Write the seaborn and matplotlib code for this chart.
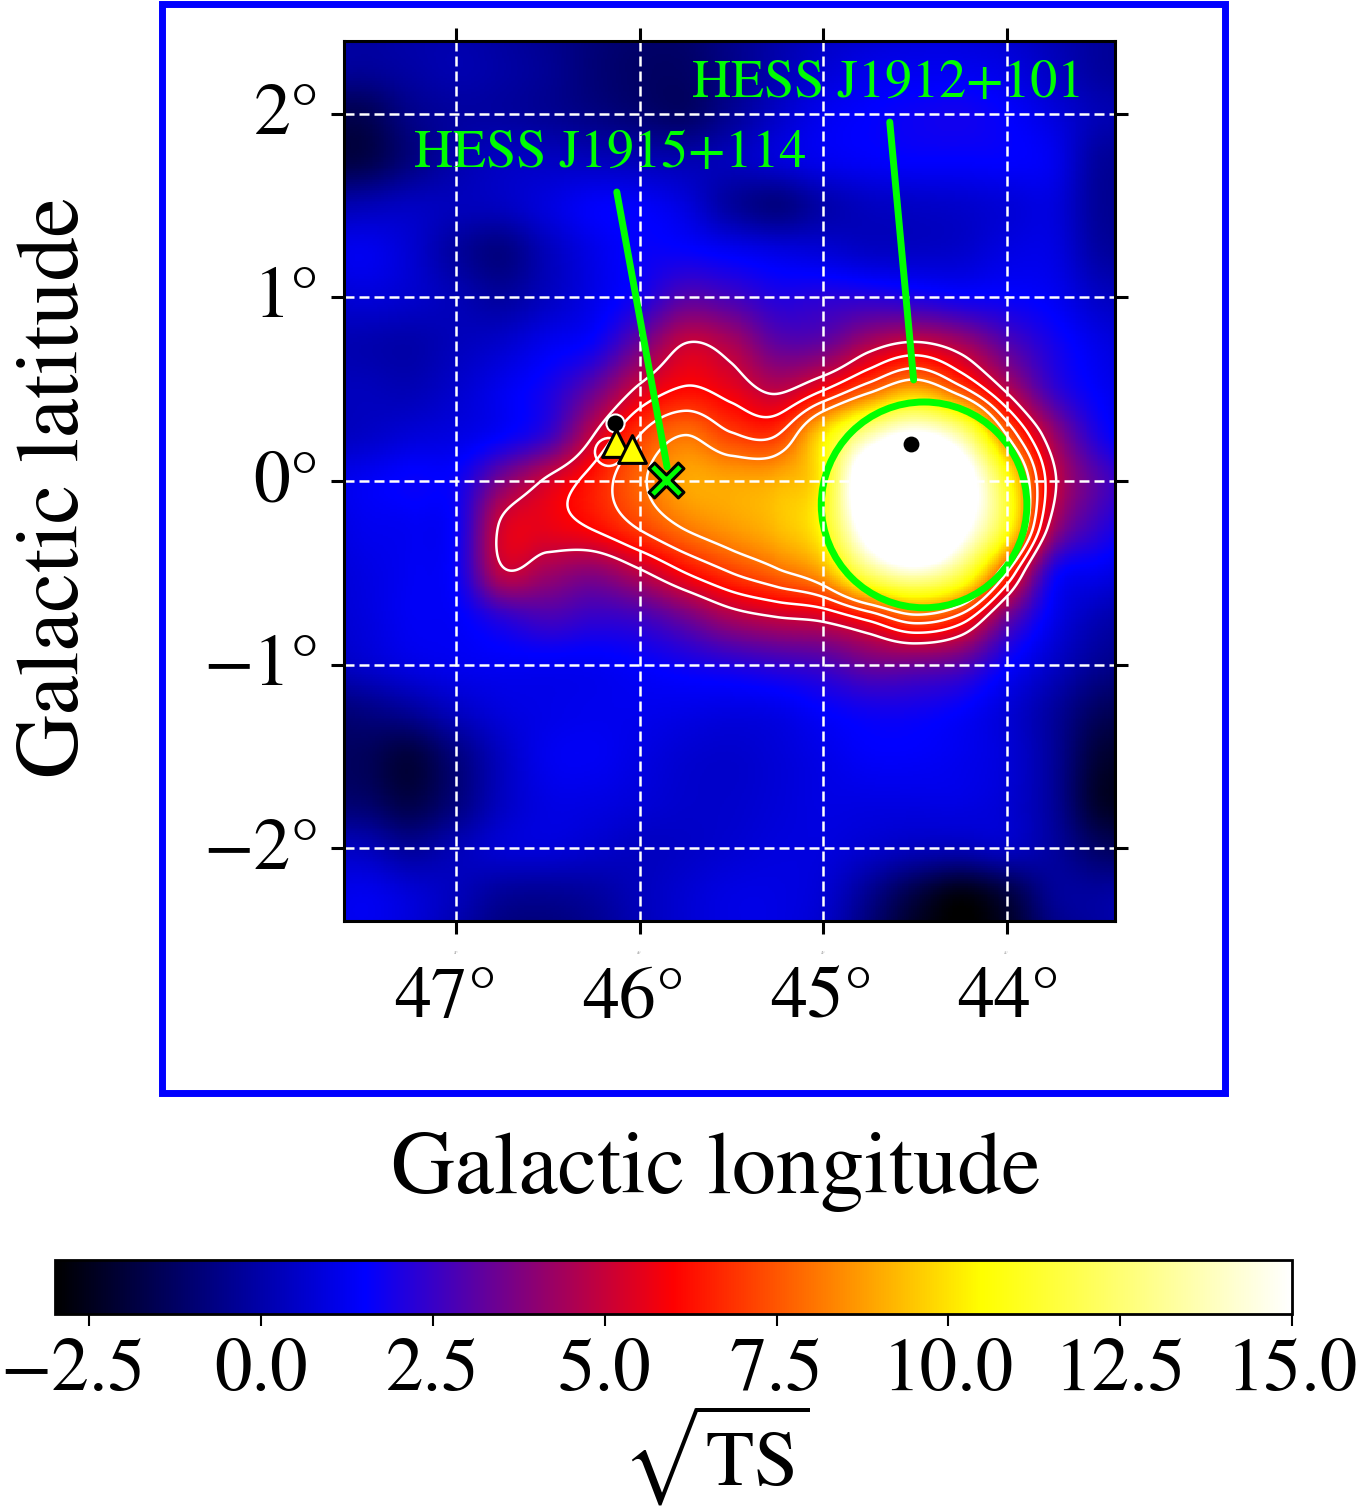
import numpy as np
import matplotlib
matplotlib.use("Agg")
import matplotlib.pyplot as plt
from matplotlib.colors import LinearSegmentedColormap
from matplotlib.patches import Circle, Rectangle
from matplotlib.transforms import Affine2D, ScaledTranslation
import seaborn as sns

# ---- values (sqrt(TS) on a 0.25 degree lattice) ----
lon_nodes = [47.75, 47.5, 47.25, 47.0, 46.75, 46.5, 46.25, 46.0, 45.75, 45.5,
             45.25, 45.0, 44.75, 44.5, 44.25, 44.0, 43.75, 43.5, 43.25]
lat_nodes = [2.5, 2.25, 2.0, 1.75, 1.5, 1.25, 1.0, 0.75, 0.5, 0.25, 0.0,
             -0.25, -0.5, -0.75, -1.0, -1.25, -1.5, -1.75, -2.0, -2.25, -2.5]
row_p250 = [0.0,-0.2,0.0,0.0,-0.2,-0.5,-0.8,-1.0,-1.0,-0.5,0.0,0.4,0.6,0.8,0.8,0.6,0.2,-0.2,-0.3]
row_p225 = [-0.2,-0.3,-0.1,0.1,-0.1,-0.4,-0.9,-1.2,-1.2,-0.6,0.1,0.7,1.1,1.2,1.2,1.0,0.4,-0.2,-0.4]
row_p200 = [-1.5,-1.5,-0.6,-0.2,-0.2,-0.4,-0.7,-1.0,-1.2,-0.4,0.5,1.2,1.5,1.7,1.8,1.5,0.9,0.2,0.0]
row_p175 = [-1.8,-1.7,-0.8,0.0,0.4,0.4,0.3,0.2,0.1,0.3,0.8,1.2,1.4,1.5,1.5,1.5,1.2,-0.2,-0.3]
row_p150 = [0.0,0.2,0.4,0.3,0.4,0.9,1.4,1.4,0.9,-0.2,-0.7,0.0,0.4,0.5,0.6,0.8,0.9,-0.3,-0.5]
row_p125 = [1.0,1.2,0.7,-0.2,-0.7,0.3,1.1,1.6,1.6,1.3,1.0,0.8,0.5,0.5,0.6,1.0,1.0,-0.1,-0.4]
row_p100 = [0.6,0.8,0.6,0.2,-0.2,0.4,1.1,1.9,3.0,2.7,2.1,2.2,2.2,2.0,1.7,1.6,1.3,0.5,0.2]
row_p075 = [0.2,0.1,0.0,0.3,0.6,1.2,1.7,3.4,5.0,4.5,3.2,3.3,4.5,5.1,4.4,3.0,1.9,1.1,0.6]
row_p050 = [0.3,0.3,0.2,0.6,1.2,1.9,3.3,5.2,6.1,5.6,4.8,5.9,7.6,9.0,7.3,4.8,2.5,1.4,0.9]
row_p025 = [0.3,0.5,0.8,1.0,1.5,2.5,5.0,7.0,8.0,7.1,7.0,10.0,13.5,15.5,13.3,8.0,4.3,2.0,1.0]
row_000  = [1.0,1.3,1.6,1.7,3.7,5.2,6.4,7.8,8.9,8.9,9.1,10.5,18.0,22.0,17.0,11.0,5.3,3.0,2.0]
row_m025 = [0.8,1.2,1.3,1.7,5.2,5.6,6.1,7.1,8.1,8.7,9.3,10.7,16.5,21.0,16.0,11.0,4.5,2.4,1.6]
row_m050 = [0.7,1.0,1.3,1.7,4.8,4.3,3.9,4.8,6.0,7.0,7.8,8.9,12.4,14.0,12.0,7.0,2.0,1.2,0.8]
row_m075 = [0.6,0.9,1.3,1.4,2.2,2.7,2.4,2.6,3.4,4.4,4.9,5.2,6.2,7.5,6.5,3.4,1.2,0.2,-0.2]
row_m100 = [0.2,0.6,1.0,1.2,1.3,1.3,1.3,1.5,1.8,2.1,2.4,2.7,3.4,3.4,3.0,1.6,0.5,-0.4,-0.8]
row_m125 = [-1.0,-0.7,-0.3,0.4,0.9,1.1,1.2,1.2,1.1,1.0,1.1,1.5,1.8,1.8,1.5,0.8,-0.2,-1.3,-1.6]
row_m150 = [-1.3,-1.4,-1.9,-0.8,0.4,1.2,1.3,1.0,0.7,0.6,0.8,1.1,1.4,1.4,1.2,0.8,-0.3,-2.0,-2.3]
row_m175 = [-1.0,-1.1,-1.7,-0.8,0.4,1.0,1.0,0.8,0.6,0.6,0.8,1.0,1.0,1.0,1.0,0.7,-0.3,-2.2,-2.5]
row_m200 = [0.4,0.3,-0.3,0.2,0.7,0.8,0.6,0.4,0.5,0.7,0.9,0.9,0.6,0.3,0.2,0.4,-0.2,-1.2,-1.5]
row_m225 = [1.0,1.2,0.8,0.3,-0.3,-0.4,-0.2,0.3,0.7,1.0,1.0,0.7,-0.5,-1.8,-2.7,-1.9,-0.4,-0.2,0.0]
row_m250 = [1.0,1.2,0.8,0.0,-0.8,-0.9,-0.5,0.2,0.7,1.0,1.0,0.5,-1.0,-2.4,-3.0,-2.4,-0.8,-0.2,0.2]

contour_levels = [5, 6, 7, 8]
lon_ticks = [47, 46, 45, 44]
lat_ticks = [2, 1, 0, -1, -2]
lon_label_px = [446, 634, 822, 1009]
cbar_ticks = [-2.5, 0.0, 2.5, 5.0, 7.5, 10.0, 12.5, 15.0]
cmap_colors = ["black", "blue", "red", "yellow", "white"]

sources = ["HESS J1912+101", "HESS J1915+114"]
source_label_lon = [45.715, 47.229]
source_label_lat = [2.09, 1.709]
source_line_lon = [[44.637, 44.507], [46.124, 45.85]]
source_line_lat = [[1.954, 0.55], [1.573, 0.076]]
circle_lon, circle_lat, circle_r = 44.45, -0.13, 0.56
loop_lon, loop_lat, loop_r = 46.167, 0.158, 0.076
dot_lon = [46.135, 44.52]
dot_lat = [0.315, 0.2]
triangle_lon = [46.13, 46.04]
triangle_lat = [0.207, 0.174]
cross_lon, cross_lat = [45.857], [0.005]

LON_LEFT, LON_RIGHT = 47.61, 43.41
LAT_TOP, LAT_BOTTOM = 2.395, -2.395

# ---- page geometry in pixels ----
W, H = 1356, 1507
sns.set_theme(style="ticks")
plt.rcParams["font.family"] = ["STIXGeneral", "Liberation Serif", "DejaVu Serif"]
plt.rcParams["mathtext.fontset"] = "stix"
plt.rcParams["axes.unicode_minus"] = True
for key in ("text.color", "axes.labelcolor", "xtick.color", "ytick.color", "axes.edgecolor"):
    plt.rcParams[key] = "black"
GREEN = "#00ff00"


def fig_rect(x0, y0, x1, y1):
    return [x0 / W, 1 - y1 / H, (x1 - x0) / W, (y1 - y0) / H]


def smooth_axis(z, t, axis):
    """Catmull-Rom resampling for display of the read lattice."""
    z = np.moveaxis(z, axis, 0)
    n = z.shape[0]
    i = np.clip(np.floor(t).astype(int), 0, n - 2)
    u = t - i
    shape = (-1,) + (1,) * (z.ndim - 1)
    u = u.reshape(shape)
    p0 = z[np.clip(i - 1, 0, n - 1)]
    p1 = z[i]
    p2 = z[i + 1]
    p3 = z[np.clip(i + 2, 0, n - 1)]
    out = 0.5 * (2 * p1 + (p2 - p0) * u + (2 * p0 - 5 * p1 + 4 * p2 - p3) * u ** 2
                 + (3 * p1 - p0 - 3 * p2 + p3) * u ** 3)
    return np.moveaxis(out, 0, axis)


lattice = np.array([row_p250, row_p225, row_p200, row_p175, row_p150, row_p125, row_p100,
                    row_p075, row_p050, row_p025, row_000, row_m025, row_m050, row_m075,
                    row_m100, row_m125, row_m150, row_m175, row_m200, row_m225, row_m250])
nx, ny = 420, 480
edge_lon = np.linspace(LON_LEFT, LON_RIGHT, nx + 1)
edge_lat = np.linspace(LAT_TOP, LAT_BOTTOM, ny + 1)
fine_lon = 0.5 * (edge_lon[:-1] + edge_lon[1:])
fine_lat = 0.5 * (edge_lat[:-1] + edge_lat[1:])
dlon = lon_nodes[1] - lon_nodes[0]
dlat = lat_nodes[1] - lat_nodes[0]
field = smooth_axis(lattice, (fine_lon - lon_nodes[0]) / dlon, 1)
field = smooth_axis(field, (fine_lat - lat_nodes[0]) / dlat, 0)

cmap = LinearSegmentedColormap.from_list("coldhot", cmap_colors, N=512)

fig = plt.figure(figsize=(W / 100, H / 100), dpi=100, facecolor="white")
ax = fig.add_axes(fig_rect(344, 41, 1115, 921))
sns.heatmap(field, ax=ax, cmap=cmap, vmin=-3, vmax=15, cbar=False,
            xticklabels=False, yticklabels=False, square=False)
mesh = ax.collections[0]
# lattice index -> degrees
to_deg = Affine2D().scale((LON_RIGHT - LON_LEFT) / nx, (LAT_BOTTOM - LAT_TOP) / ny).translate(LON_LEFT, LAT_TOP)
mesh.set_transform(to_deg + ax.transData)
ax.set_xlim(LON_LEFT, LON_RIGHT)
ax.set_ylim(LAT_BOTTOM, LAT_TOP)

for s in ax.spines.values():
    s.set_visible(True)
    s.set_linewidth(2.2)
    s.set_color("black")
    s.set_zorder(20)

ax.contour(fine_lon, fine_lat, field, levels=contour_levels, colors="white", linewidths=1.8, zorder=3)
ax.add_patch(Circle((loop_lon, loop_lat), loop_r, fill=False, ec="white", lw=1.8, zorder=3))

# grid
dash = (0, (4.0, 2.0))
for l in lon_ticks:
    ax.axvline(l, color="white", lw=1.8, ls=dash, zorder=5)
for b in lat_ticks:
    ax.axhline(b, color="white", lw=1.8, ls=dash, zorder=5)

# ticks
ax.set_xticks(lon_ticks)
ax.set_xticklabels([f"{l}\u00b0" for l in lon_ticks], fontsize=2.4, color="#777777")
ax.set_yticks(lat_ticks)
ax.set_yticklabels([f"{b}\u00b0".replace("-", "\u2212") for b in lat_ticks], fontsize=53, color="black")
ax.tick_params(axis="both", which="major", direction="out", length=9.5, width=2.2, color="black",
               top=True, right=True, bottom=True, left=True, labelleft=True, labelbottom=True)
ax.tick_params(axis="x", pad=12)
ax.tick_params(axis="y", pad=8)
for t in ax.get_yticklabels():
    t.set_transform(t.get_transform() + ScaledTranslation(0, 5 / 100, fig.dpi_scale_trans))

# large longitude labels, at the reference's own spacing
for l, px in zip(lon_ticks, lon_label_px):
    fig.text(px / W, 1 - 1017 / H, f"{l}\u00b0", fontsize=53, ha="center", va="baseline", color="black")

# source annotations
ax.add_patch(Circle((circle_lon, circle_lat), circle_r, fill=False, ec=GREEN, lw=5, zorder=4))
for name, tx, ty, lx, ly in zip(sources, source_label_lon, source_label_lat, source_line_lon, source_line_lat):
    ax.plot(lx, ly, color=GREEN, lw=5, solid_capstyle="round", zorder=6)
    ax.text(tx, ty, name, color=GREEN, fontsize=39, ha="left", va="baseline", zorder=7)

ax.scatter(dot_lon[:1], dot_lat[:1], s=170, c="black", edgecolors="white", linewidths=1.5, zorder=8)
ax.scatter(dot_lon[1:], dot_lat[1:], s=130, c="black", linewidths=0, zorder=8)
ax.scatter(triangle_lon, triangle_lat, s=400, marker="^", c="yellow", edgecolors="black", linewidths=2.2, zorder=9)
d = 0.16
thin_x = [(0, -d), (0.5 - d, -0.5), (0.5, -0.5 + d), (d, 0), (0.5, 0.5 - d), (0.5 - d, 0.5),
          (0, d), (-0.5 + d, 0.5), (-0.5, 0.5 - d), (-d, 0), (-0.5, -0.5 + d), (-0.5 + d, -0.5), (0, -d)]
ax.scatter(cross_lon, cross_lat, s=630, marker=thin_x, c=GREEN, edgecolors="black", linewidths=2.2, zorder=10)

# blue frame
fig.add_artist(Rectangle((162 / W, 1 - 1093 / H), (1225 - 162) / W, (1093 - 4) / H, transform=fig.transFigure,
                         fill=False, ec="blue", lw=5))

# axis titles
fig.text(716 / W, 1 - 1193 / H, "Galactic longitude", fontsize=63.5, ha="center", va="baseline", color="black")
fig.text(57 / W, 1 - 488 / H, "Galactic latitude", fontsize=63.5, ha="center", va="center", rotation=90, color="black")

# colour bar
cax = fig.add_axes(fig_rect(55, 1260, 1292, 1314))
cb = fig.colorbar(mesh, cax=cax, orientation="horizontal", ticks=cbar_ticks)
cb.ax.set_xticklabels([f"{t:.1f}".replace("-", "\u2212") for t in cbar_ticks], fontsize=54, color="black")
cb.ax.tick_params(axis="x", length=8.5, width=1.5, color="black", pad=9, bottom=True)
cb.outline.set_linewidth(2.0)
cb.outline.set_edgecolor("black")
first = cb.ax.get_xticklabels()[0]
first.set_transform(first.get_transform() + ScaledTranslation(-17 / 100, 0, fig.dpi_scale_trans))
fig.text(716 / W, 1 - 1486 / H, r"$\sqrt{\mathrm{TS}}$", fontsize=57, ha="center", va="baseline", color="black")

fig.savefig("out.png", dpi=100, facecolor="white")
